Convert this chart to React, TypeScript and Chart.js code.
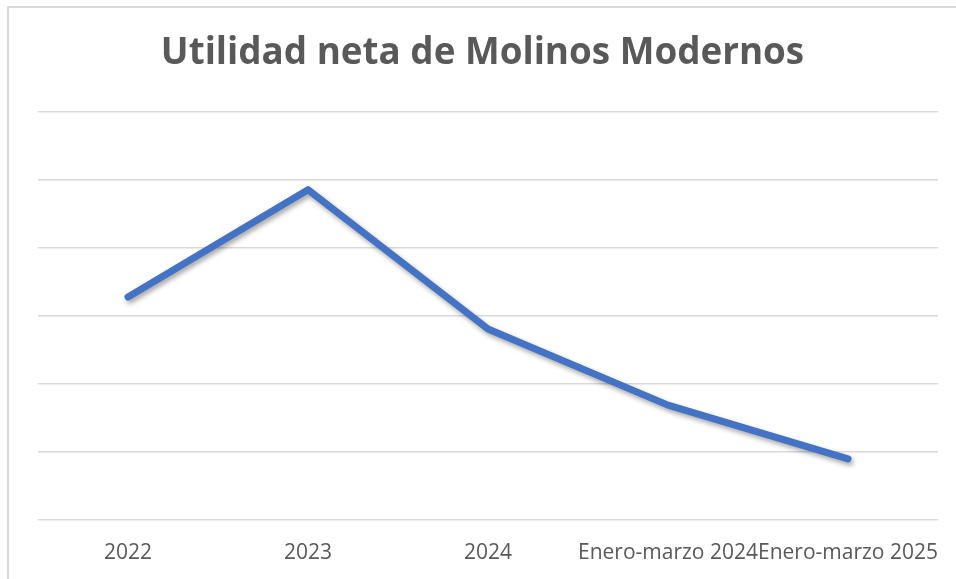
import React, { useEffect, useRef } from "react";
import { Chart, registerables } from "chart.js";

Chart.register(...registerables);

const TITLE = "Utilidad neta de Molinos Modernos";
const categories = ["2022", "2023", "2024", "Enero-marzo 2024", "Enero-marzo 2025"];
const utilidadNeta = [32.8, 48.6, 28.1, 16.9, 9.0];
const yMin = 0;
const yMax = 60;
const yStep = 10;

const shadowPlugin = {
  id: "lineShadow",
  beforeDatasetsDraw(chart: any) {
    const ctx = chart.ctx;
    ctx.save();
    ctx.shadowColor = "rgba(0,0,0,0.35)";
    ctx.shadowBlur = 5;
    ctx.shadowOffsetX = 2;
    ctx.shadowOffsetY = 3;
  },
  afterDatasetsDraw(chart: any) {
    chart.ctx.restore();
  },
};

export default function App() {
  const ref = useRef<HTMLCanvasElement | null>(null);
  useEffect(() => {
    let chart: Chart | null = null;
    let cancelled = false;
    const make = () => {
      if (cancelled || !ref.current) return;
      chart = new Chart(ref.current, {
        type: "line",
        data: {
          labels: categories,
          datasets: [
            {
              label: "Utilidad neta",
              data: utilidadNeta,
              borderColor: "#4472C4",
              backgroundColor: "#4472C4",
              borderWidth: 7,
              borderCapStyle: "round",
              borderJoinStyle: "round",
              pointRadius: 0,
              pointHoverRadius: 0,
              tension: 0,
              fill: false,
            },
          ],
        },
        options: {
          animation: false,
          responsive: false,
          maintainAspectRatio: false,
          events: [],
          layout: { padding: { top: 0, left: 27, right: 18, bottom: 14 } },
          plugins: {
            legend: { display: false },
            tooltip: { enabled: false },
            title: {
              display: true,
              text: TITLE,
              color: "#595959",
              font: { family: "'Open Sans'", size: 36.8, weight: "bold", lineHeight: 1.2 },
              padding: { top: 31, bottom: 37 },
            },
          },
          scales: {
            x: {
              type: "category",
              offset: true,
              grid: { display: false, drawTicks: false },
              border: { display: false },
              ticks: {
                color: "#595959",
                font: { family: "'Open Sans'", size: 21, lineHeight: 1.2 },
                padding: 20,
                autoSkip: false,
                maxRotation: 0,
                minRotation: 0,
              },
              afterFit: (scale: any) => {
                scale.height = 45;
                scale.paddingLeft = 0;
                scale.paddingRight = 0;
              },
            },
            y: {
              min: yMin,
              max: yMax,
              grid: { color: "#d9d9d9", lineWidth: 1.5, drawTicks: false },
              border: { display: false },
              ticks: { display: false, stepSize: yStep },
              afterFit: (scale: any) => {
                scale.width = 11;
              },
            },
          },
        },
        plugins: [shadowPlugin],
      } as any);
    };
    const fonts: any = (document as any).fonts;
    if (fonts && fonts.load) {
      Promise.all([
        fonts.load("bold 37px 'Open Sans'"),
        fonts.load("21px 'Open Sans'"),
      ]).then(make, make);
    } else {
      make();
    }
    return () => {
      cancelled = true;
      if (chart) chart.destroy();
    };
  }, []);

  return (
    <div
      style={{
        position: "absolute",
        left: 0,
        top: 0,
        width: 956,
        height: 579,
        overflow: "hidden",
        background: "#ffffff",
      }}
    >
      <div
        style={{
          position: "absolute",
          left: 7,
          top: 6,
          width: 2000,
          height: 2000,
          border: "2px solid #d9d9d9",
          boxSizing: "border-box",
        }}
      />
      <canvas
        ref={ref}
        width={956}
        height={579}
        style={{ position: "absolute", left: 0, top: 0, width: 956, height: 579 }}
      />
    </div>
  );
}
